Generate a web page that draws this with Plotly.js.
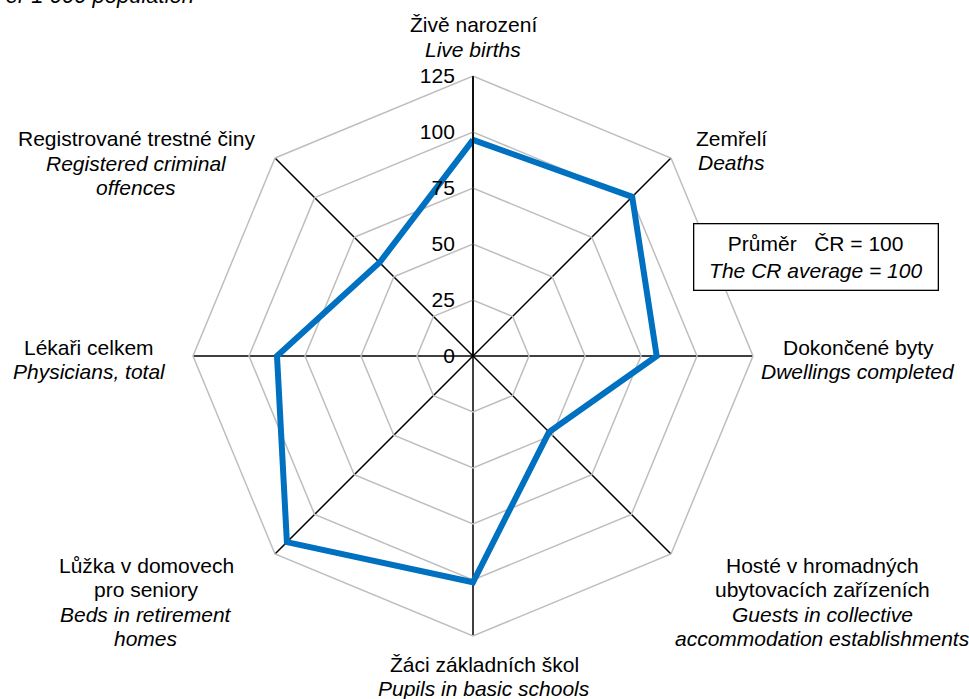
<!DOCTYPE html>
<html><head><meta charset="utf-8">
<script src="https://cdn.plot.ly/plotly-3.0.1.min.js"></script>
<style>html,body{margin:0;padding:0;background:#fff}#chart{width:969px;height:699px}</style>
</head><body><div id="chart"></div>
<script>
// ---- data ----
const categoriesCz = ["Živě narození", "Zemřelí", "Dokončené byty", "Hosté v hromadných<br>ubytovacích zařízeních", "Žáci základních škol", "Lůžka v domovech<br>pro seniory", "Lékaři celkem", "Registrované trestné činy"];
const categoriesEn = ["Live births", "Deaths", "Dwellings completed", "Guests in collective<br>accommodation establishments", "Pupils in basic schools", "Beds in retirement<br>homes", "Physicians, total", "Registered criminal<br>offences"];
const values = [96.5, 100.5, 82, 48, 101, 117.5, 87.5, 59];
const radialTicks = [0, 25, 50, 75, 100, 125];
const noteCz = "Průměr\u00A0\u00A0\u00A0ČR = 100";
const noteEn = "The CR average = 100";
const unitText = "Per 1 000 population";

// ---- layout helpers ----
const W = 969, H = 699;
const FONT = "Liberation Sans, Arial, Helvetica, sans-serif";
const fx = p => p / W;
const fy = p => 1 - p / H;
const labelPos = [[473, 25], [731, 138], [858, 347], [822, 565], [484, 664], [146, 565], [89, 347], [136, 139]];
const lineStep = 24.5;

const theta = categoriesEn.map(s => s.replace(/<br>/g, " "));
const annotations = [];
categoriesCz.forEach((cz, i) => {
  const lines = cz.split("<br>").concat(categoriesEn[i].split("<br>").map(t => "<i>" + t + "</i>"));
  lines.forEach((t, j) => {
    annotations.push({
      xref: "paper", yref: "paper", x: fx(labelPos[i][0]), y: fy(labelPos[i][1] + j * lineStep),
      xanchor: "center", yanchor: "middle", showarrow: false, text: t,
      font: {family: FONT, size: t.length > 35 ? 20.5 : 21, color: "#000"}
    });
  });
});
annotations.push({
  xref: "paper", yref: "paper", x: fx(815.5), y: fy(256.5), xanchor: "center", yanchor: "middle",
  showarrow: false, text: noteCz + "<br><i>" + noteEn + "</i>",
  font: {family: FONT, size: 21, color: "#000"},
  bordercolor: "#000", borderwidth: 1.3, bgcolor: "#fff", width: 241, height: 63
});
annotations.push({
  xref: "paper", yref: "paper", x: fx(196), y: fy(-5), xanchor: "right", yanchor: "middle",
  showarrow: false, text: "<i>" + unitText + "</i>",
  font: {family: FONT, size: 22, color: "#000"}
});

const trace = {
  type: "scatterpolar", mode: "lines",
  r: values.concat([values[0]]), theta: theta.concat([theta[0]]),
  line: {color: "#0070C0", width: 6, shape: "linear"},
  hoverinfo: "skip", showlegend: false
};

const layout = {
  width: W, height: H,
  margin: {l: 0, r: 0, t: 0, b: 0},
  paper_bgcolor: "#fff",
  showlegend: false,
  font: {family: FONT, size: 21, color: "#000"},
  polar: {
    domain: {x: [fx(193), fx(753)], y: [fy(636), fy(76)]},
    bgcolor: "#fff",
    gridshape: "linear",
    radialaxis: {
      range: [0, 125], tickvals: radialTicks, ticktext: radialTicks.map(String),
      angle: 90, side: "counterclockwise",
      showline: true, linecolor: "#000", linewidth: 1.5,
      gridcolor: "#BEBEBE", gridwidth: 1.5,
      ticks: "outside", ticklen: 10, tickcolor: "rgba(0,0,0,0)",
      tickfont: {family: FONT, size: 21, color: "#000"},
      tickangle: 90
    },
    angularaxis: {
      type: "category", categoryorder: "array", categoryarray: theta,
      direction: "clockwise", rotation: 90,
      showticklabels: false, ticks: "",
      showline: true, linecolor: "#BEBEBE", linewidth: 1.5,
      gridcolor: "#000", gridwidth: 1.5
    }
  },
  annotations: annotations
};

Plotly.newPlot("chart", [trace], layout, {displayModeBar: false, staticPlot: true});
</script>
</body></html>
